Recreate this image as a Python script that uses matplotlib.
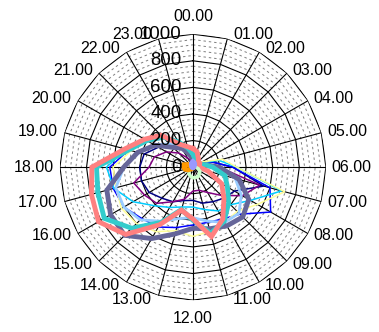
import numpy as np
import matplotlib
matplotlib.use('Agg')
import matplotlib.pyplot as plt

plt.rcParams['font.family'] = ['Liberation Sans', 'DejaVu Sans']

hours = ['%02d.00' % h for h in range(24)]
ticks = [0, 200, 400, 600, 800, 1000]

# series values, one per hour (00.00 .. 23.00)
navy = [40, 30, 20, 20, 30, 150, 300, 550, 360, 330, 300, 280, 250, 260, 300, 330, 380, 400, 400, 380, 300, 230, 150, 80]
purple = [30, 20, 10, 10, 20, 80, 200, 520, 430, 300, 220, 180, 180, 250, 300, 385, 420, 460, 330, 300, 230, 150, 80, 50]
blue = [60, 40, 30, 30, 50, 150, 300, 600, 675, 500, 450, 430, 435, 470, 520, 545, 600, 620, 625, 500, 400, 300, 200, 120]
cyan = [70, 50, 40, 40, 60, 200, 330, 690, 500, 400, 380, 330, 300, 310, 350, 410, 520, 615, 650, 520, 420, 330, 220, 130]
yellow = [80, 60, 50, 50, 80, 230, 330, 715, 560, 470, 480, 500, 520, 495, 560, 600, 620, 600, 600, 480, 400, 300, 200, 120]
lightblue = [50, 40, 30, 30, 40, 100, 200, 330, 420, 490, 480, 420, 380, 400, 470, 560, 600, 600, 520, 420, 330, 250, 170, 100]
slate = [60, 40, 30, 30, 40, 80, 200, 360, 485, 530, 510, 480, 460, 520, 620, 725, 715, 670, 520, 430, 330, 210, 165, 100]
teal = [100, 60, 40, 40, 50, 80, 150, 250, 300, 380, 470, 515, 400, 330, 480, 650, 770, 740, 725, 500, 400, 320, 220, 150]
salmon = [140, 120, 80, 60, 60, 50, 50, 120, 250, 330, 450, 540, 390, 335, 500, 715, 820, 790, 760, 530, 420, 340, 200, 160]
green = [5, 5, 5, 5, 5, 10, 20, 40, 60, 70, 80, 80, 80, 70, 60, 40, 20, 10, 5, 5, 5, 5, 5, 5]
orange = [5, 5, 5, 5, 5, 5, 5, 5, 5, 5, 5, 5, 5, 5, 10, 20, 40, 60, 70, 70, 40, 20, 10, 5]
lavender = [40, 35, 25, 15, 10, 5, 5, 5, 5, 5, 5, 5, 5, 5, 5, 5, 5, 5, 5, 5, 10, 15, 25, 35]

series = [
    (navy, '#000080', 1.1),
    (purple, '#800080', 1.1),
    (blue, '#0000FF', 1.1),
    (cyan, '#00CCFF', 1.1),
    (yellow, '#FFFF99', 1.1),
    (lightblue, '#99CCFF', 2.0),
    (slate, '#666699', 3.5),
    (teal, '#33CCCC', 3.5),
    (salmon, '#FF8080', 3.5),
    (green, '#CCFFCC', 2.5),
    (orange, '#FF9900', 3.5),
    (lavender, '#9999FF', 3.5),
]

fig = plt.figure(figsize=(3.79, 3.32), dpi=100)
ax = fig.add_axes([0.158, 0.096, 0.702, 0.801], projection='polar')
ax.set_theta_zero_location('N')
ax.set_theta_direction(-1)
ax.set_ylim(0, 1000)
ax.grid(False)
ax.spines['polar'].set_visible(False)
ax.set_xticks([])
ax.set_yticks([])

theta = np.arange(24) * 2 * np.pi / 24
closed = np.append(theta, theta[0])

# minor rings (dashed), major rings and spokes
for r in range(40, 1000, 40):
    if r % 200:
        ax.plot(closed, [r] * 25, color='#7f7f7f', lw=0.7, ls=(0, (2.5, 3)), zorder=1)
for r in ticks[1:]:
    ax.plot(closed, [r] * 25, color='black', lw=0.8, zorder=2)
for t in theta:
    ax.plot([t, t], [0, 1000], color='black', lw=0.8, zorder=2)

for vals, col, lw in series:
    ax.plot(closed, vals + vals[:1], color=col, lw=lw, zorder=3, solid_joinstyle='miter')

# hour labels placed outside the outer ring, like a spreadsheet radar chart
for i, (t, lab) in enumerate(zip(theta, hours)):
    dy = 3 * np.cos(t)
    if i == 0:
        off, ha = (0, 13), 'center'
    elif i == 12:
        off, ha = (0, -13), 'center'
    elif i < 12:
        off, ha = (4, dy), 'left'
    else:
        off, ha = (-4.5, dy), 'right'
    ax.annotate(lab, xy=(t, 1000), xytext=off, textcoords='offset points',
                ha=ha, va='center', fontsize=11.5, annotation_clip=False)

for v in ticks:
    ax.annotate(str(v), xy=(0, v), xytext=(-8, 0), textcoords='offset points',
                ha='right', va='center', fontsize=13.4, zorder=5)

fig.savefig('out.png', dpi=100)
